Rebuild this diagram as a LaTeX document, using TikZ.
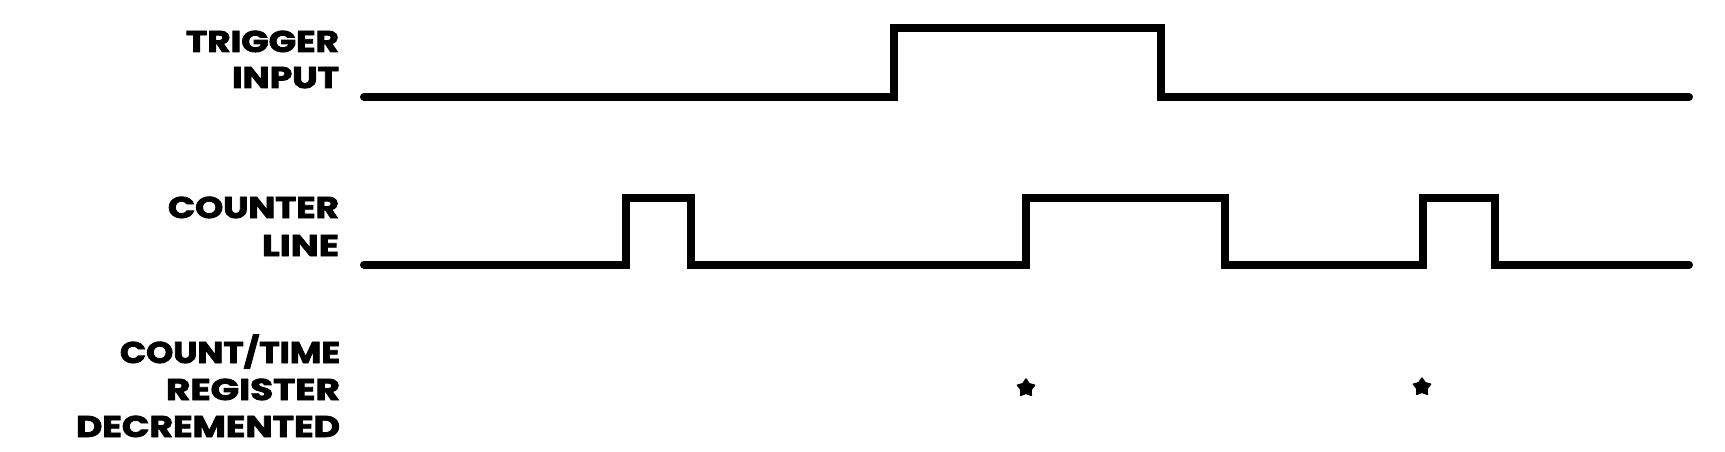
\documentclass[tikz,border=0pt]{standalone}
\usepackage{fontspec}
\setmainfont{Poppins}
\newfontfamily\heavyfont{Poppins}[BoldFeatures={FakeBold=2.5}]
\usepackage{graphicx}
\usetikzlibrary{shapes.geometric}
\newcommand{\lblline}[2]{\resizebox{#1pt}{\height}{\fontsize{30}{36}\heavyfont\bfseries #2}}
\tikzset{
  sig/.style={line width=8pt, line join=miter, line cap=round},
  lbl/.style={anchor=base east, inner sep=0pt, outer sep=0pt},
  mark star/.style={star, star points=5, star point ratio=1.7, fill=black, draw=black, line width=1.5pt, line join=round, minimum size=18pt, inner sep=0pt}
}
\begin{document}
\begin{tikzpicture}[x=1pt, y=-1pt]
\useasboundingbox (0,0) rectangle (1725,452);
% labels
\node[lbl] (trigA) at (339,52) {\lblline{153}{TRIGGER}};
\node[lbl] (trigB) at (339,88) {\lblline{107}{INPUT}};
\node[lbl] (cntA) at (339,218) {\lblline{171}{COUNTER}};
\node[lbl] (cntB) at (339,256) {\lblline{77}{LINE}};
\node[lbl] (regA) at (340,363) {\lblline{220}{COUNT/TIME}};
\node[lbl] (regB) at (340,400) {\lblline{174}{REGISTER}};
\node[lbl] (regC) at (340,437) {\lblline{264}{DECREMENTED}};
% trigger input waveform
\draw[sig] (364,97) -- (894,97) -- (894,28) -- (1161,28) -- (1161,97) -- (1689,97);
% counter line waveform
\draw[sig] (364,264.5) -- (626,264.5) -- (626,198) -- (691,198) -- (691,264.5)
  -- (1026,264.5) -- (1026,198) -- (1225,198) -- (1225,264.5)
  -- (1423,264.5) -- (1423,198) -- (1495,198) -- (1495,264.5) -- (1689,264.5);
% decrement marks
\node[mark star] (s1) at (1026,388) {};
\node[mark star] (s2) at (1422,387) {};
\end{tikzpicture}
\end{document}
